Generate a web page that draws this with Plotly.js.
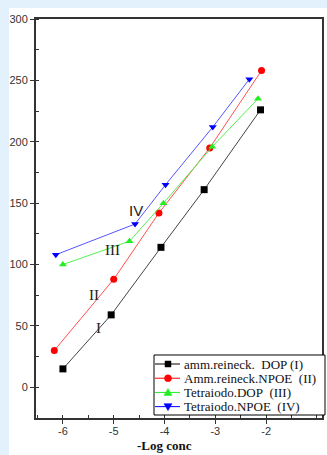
<!DOCTYPE html>
<html><head><meta charset="utf-8">
<script src="https://cdn.plot.ly/plotly-3.0.1.min.js"></script>
<style>
html,body{margin:0;padding:0;background:#e2f1fb;width:327px;height:455px;overflow:hidden}
#chart{position:absolute;left:9px;top:8px;width:318px;height:447px;background:#fff}
</style></head><body>
<div id="chart"></div>
<script>
const xI=[-6.0,-5.05,-4.07,-3.22,-2.11];
const yI=[15,59,114,161,226];
const xII=[-6.17,-5.0,-4.11,-3.11,-2.09];
const yII=[30,88,142,195,258];
const xIII=[-6.0,-4.69,-4.02,-3.06,-2.16];
const yIII=[100,119,150,196,235];
const xIV=[-6.14,-4.58,-3.98,-3.05,-2.33];
const yIV=[108,133,165,212,251];
const names=["amm.reineck.\u00a0\u00a0DOP (I)","Amm.reineck.NPOE\u00a0\u00a0(II)","Tetraiodo.DOP\u00a0\u00a0(III)","Tetraiodo.NPOE\u00a0\u00a0(IV)"];
const seriesLabels=["I","II","III","IV"];
const labelPos=[[-5.3,48],[-5.38,75],[-5.02,112],[-4.57,144]];
const xTickVals=[-6,-5,-4,-3,-2];
const yTickVals=[0,50,100,150,200,250,300];

const markerCols=['#000000','#ff0000','#22ee22','#0000ff'];
const lineCols=['#444444','#ff5050','#55ee55','#5555ff'];
const symbols=['square','circle','triangle-up','triangle-down'];

function tr(i,x,y){
  return {x:x,y:y,name:names[i],type:'scatter',mode:'lines+markers',showlegend:false,
    line:{color:lineCols[i],width:1},marker:{color:markerCols[i],symbol:symbols[i],size:7}};
}
const data=[tr(0,xI,yI),tr(1,xII,yII),tr(2,xIII,yIII),tr(3,xIV,yIV)];
const serif='"Liberation Serif","Times New Roman",serif';
const ann=seriesLabels.map((t,i)=>({x:labelPos[i][0],y:labelPos[i][1],text:t,showarrow:false,
  font:{family:i===3?'"Liberation Sans",Arial,sans-serif':serif,size:15,color:'#222'}}));
ann.push({xref:'paper',yref:'paper',x:0.45,y:-0.048,yanchor:'top',text:'<b>-Log conc</b>',showarrow:false,
  borderpad:0,font:{family:serif,size:13,color:'#111'}});

// manual legend (paper coords)
const shapes=[{type:'rect',xref:'paper',yref:'paper',x0:0.4126,x1:1.0105,y0:0.0075,y1:0.1579,
  line:{color:'#000',width:1},fillcolor:'#fff',layer:'above'}];
const rowY0=0.1353, rowDy=0.0356, lx0=0.4161, lx1=0.5035, mx=0.4615, tx=0.5105;
names.forEach((n,i)=>{
  const yy=rowY0-i*rowDy;
  shapes.push({type:'line',xref:'paper',yref:'paper',x0:lx0,x1:lx1,y0:yy,y1:yy,line:{color:markerCols[i],width:1},layer:'above'});
  const base={xref:'paper',yref:'paper',xsizemode:'pixel',ysizemode:'pixel',xanchor:mx,yanchor:yy,
    fillcolor:markerCols[i],line:{color:markerCols[i],width:0.5},layer:'above'};
  if(i===0) shapes.push(Object.assign({type:'rect',x0:-3,x1:3,y0:-3,y1:3},base));
  if(i===1) shapes.push(Object.assign({type:'circle',x0:-3.5,x1:3.5,y0:-3.5,y1:3.5},base));
  if(i===2) shapes.push(Object.assign({type:'path',path:'M-4,-3 L4,-3 L0,4 Z'},base));
  if(i===3) shapes.push(Object.assign({type:'path',path:'M-4,3 L4,3 L0,-4 Z'},base));
  ann.push({xref:'paper',yref:'paper',x:tx,y:yy,xanchor:'left',yanchor:'middle',text:n,showarrow:false,
    font:{family:serif,size:13,color:'#111'}});
});

const layout={
  width:318,height:447,
  margin:{l:27,r:5,t:11,b:37},
  paper_bgcolor:'rgba(0,0,0,0)',plot_bgcolor:'#fff',
  showlegend:false,
  xaxis:{range:[-6.53,-0.9],tickvals:xTickVals,ticktext:xTickVals.map(String),showgrid:false,zeroline:false,
    showline:true,linecolor:'#333',linewidth:2,mirror:true,ticks:'outside',ticklen:4,tickcolor:'#333',
    ticklabelstandoff:-2,
    tickfont:{family:'"Liberation Sans",Arial,sans-serif',size:11,color:'#333'},
    minor:{dtick:0.5,tick0:0,ticks:'inside',ticklen:3,tickcolor:'#333'}},
  yaxis:{range:[-25,300],tickvals:yTickVals,ticktext:yTickVals.map(String),showgrid:false,zeroline:false,
    showline:true,linecolor:'#333',linewidth:2,mirror:true,ticks:'outside',ticklen:4,tickcolor:'#333',
    tickfont:{family:'"Liberation Sans",Arial,sans-serif',size:11,color:'#333'},
    minor:{dtick:25,tick0:0,ticks:'inside',ticklen:3,tickcolor:'#333'}},
  annotations:ann,shapes:shapes
};
Plotly.newPlot('chart',data,layout,{displayModeBar:false,staticPlot:true});
</script></body></html>
